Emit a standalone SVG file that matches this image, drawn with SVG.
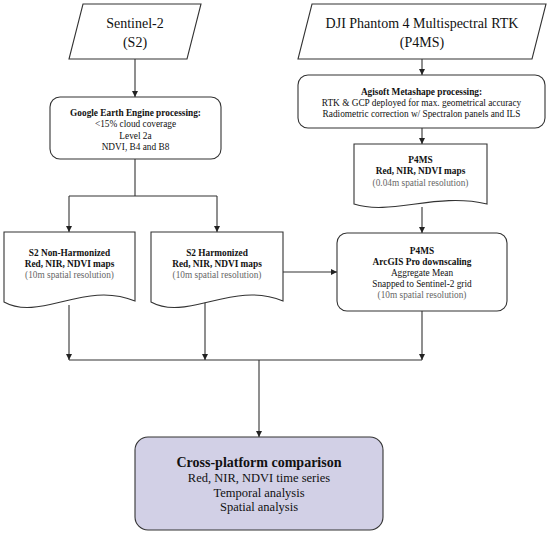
<svg xmlns="http://www.w3.org/2000/svg" width="550" height="534" viewBox="0 0 550 534">
<defs>
<marker id="ah" viewBox="0 0 10 10" refX="10" refY="5" markerWidth="6" markerHeight="6" orient="auto" markerUnits="userSpaceOnUse">
<path d="M0,0 L10,5 L0,10 Z" fill="#222"/>
</marker>
<style>
.shape{fill:#fff;stroke:#333;stroke-width:1.1}
.final{fill:#d2d0e6;stroke:#333;stroke-width:1.1}
.conn{fill:none;stroke:#333;stroke-width:1.1}
text{font-family:"Liberation Serif","Times New Roman",serif;text-anchor:middle;fill:#111}
.big{font-size:14px}
.sm{font-size:9.3px}
.b{font-weight:bold}
.g{fill:#666}
.fin{font-size:12.5px}
.finT{font-size:14px;font-weight:bold}
</style>
</defs>
<rect width="550" height="534" fill="#fff"/>

<g id="connectors">
<line class="conn" x1="135" y1="59" x2="135" y2="97" marker-end="url(#ah)"/>
<line class="conn" x1="422" y1="59" x2="422" y2="75" marker-end="url(#ah)"/>
<line class="conn" x1="422" y1="128" x2="422" y2="144" marker-end="url(#ah)"/>
<line class="conn" x1="422" y1="207" x2="422" y2="233" marker-end="url(#ah)"/>
<polyline class="conn" points="135,159 135,196"/>
<polyline class="conn" points="69,196 217,196"/>
<line class="conn" x1="69" y1="196" x2="69" y2="232" marker-end="url(#ah)"/>
<line class="conn" x1="217" y1="196" x2="217" y2="232" marker-end="url(#ah)"/>
<line class="conn" x1="283" y1="272" x2="337" y2="272" marker-end="url(#ah)"/>
<line class="conn" x1="69" y1="305" x2="69" y2="360" marker-end="url(#ah)"/>
<line class="conn" x1="205" y1="302" x2="205" y2="360" marker-end="url(#ah)"/>
<line class="conn" x1="422" y1="311" x2="422" y2="360" marker-end="url(#ah)"/>
<polyline class="conn" points="69,360 422,360"/>
<line class="conn" x1="259" y1="360" x2="259" y2="437" marker-end="url(#ah)"/>
</g>

<g id="s2">
<path class="shape" d="M83,4 L201,4 L187,59 L69,59 Z"/>
<text class="big" x="135" y="28">Sentinel-2</text>
<text class="big" x="135" y="47">(S2)</text>
</g>

<g id="p4ms">
<path class="shape" d="M312,4 L546,4 L532,59 L298,59 Z"/>
<text class="big" x="422" y="28">DJI Phantom 4 Multispectral RTK</text>
<text class="big" x="422" y="47">(P4MS)</text>
</g>

<g id="gee">
<rect class="shape" x="50" y="97" width="171" height="62" rx="10"/>
<text class="sm b" x="135.5" y="115.5">Google Earth Engine processing:</text>
<text class="sm" x="135.5" y="127">&lt;15% cloud coverage</text>
<text class="sm" x="135.5" y="138.5">Level 2a</text>
<text class="sm" x="135.5" y="150">NDVI, B4 and B8</text>
</g>

<g id="agisoft">
<rect class="shape" x="298" y="75" width="247" height="53" rx="10"/>
<text class="sm b" x="421.5" y="94.5">Agisoft Metashape processing:</text>
<text class="sm" x="421.5" y="105.5">RTK &amp; GCP deployed for max. geometrical accuracy</text>
<text class="sm" x="421.5" y="116.5">Radiometric correction w/ Spectralon panels and ILS</text>
</g>

<g id="p4ms-maps">
<path class="shape" d="M354,144 H487 V204 C436,192 391,216 354,204 Z"/>
<text class="sm b" x="420.5" y="163">P4MS</text>
<text class="sm b" x="420.5" y="174">Red, NIR, NDVI maps</text>
<text class="sm g" x="420.5" y="185.5">(0.04m spatial resolution)</text>
</g>

<g id="s2-nonharm">
<path class="shape" d="M4,232 H135 V301 C85,280 40,322 4,302 Z"/>
<text class="sm b" x="69.5" y="255.5">S2 Non-Harmonized</text>
<text class="sm b" x="69.5" y="266.5">Red, NIR, NDVI maps</text>
<text class="sm g" x="69.5" y="277.5">(10m spatial resolution)</text>
</g>

<g id="s2-harm">
<path class="shape" d="M151,232 H283 V301 C233,280 187,322 151,302 Z"/>
<text class="sm b" x="217" y="255.5">S2 Harmonized</text>
<text class="sm b" x="217" y="266.5">Red, NIR, NDVI maps</text>
<text class="sm g" x="217" y="277.5">(10m spatial resolution)</text>
</g>

<g id="arcgis">
<rect class="shape" x="337" y="233" width="170" height="78" rx="10"/>
<text class="sm b" x="422" y="253.5">P4MS</text>
<text class="sm b" x="422" y="264.5">ArcGIS Pro downscaling</text>
<text class="sm" x="422" y="275.5">Aggregate Mean</text>
<text class="sm" x="422" y="286.5">Snapped to Sentinel-2 grid</text>
<text class="sm g" x="422" y="297.5">(10m spatial resolution)</text>
</g>

<g id="comparison">
<rect class="final" x="135" y="437" width="248" height="93" rx="13"/>
<text class="finT" x="259" y="466.5">Cross-platform comparison</text>
<text class="fin" x="259" y="482">Red, NIR, NDVI time series</text>
<text class="fin" x="259" y="496.5">Temporal analysis</text>
<text class="fin" x="259" y="511">Spatial analysis</text>
</g>
</svg>
